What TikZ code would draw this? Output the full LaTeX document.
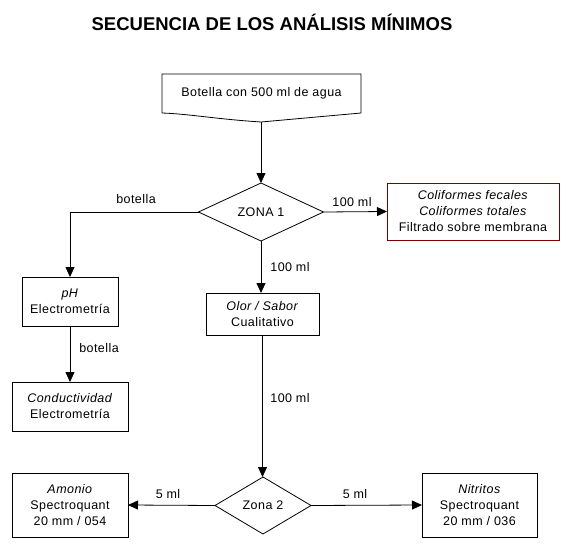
\documentclass[tikz,border=0pt]{standalone}
\usepackage{fontspec}
\setmainfont{Liberation Sans}
\newfontfamily\lblfont[LetterSpace=3.5]{Liberation Sans}
\usetikzlibrary{shapes.geometric,arrows.meta}
\definecolor{boxred}{RGB}{128,0,0}
\begin{document}
\begin{tikzpicture}[x=1pt,y=-1pt,
  every node/.style={font=\lblfont\fontsize{12.5}{16}\selectfont},
  box/.style={draw, line width=0.8pt, inner sep=0pt, outer sep=0pt, align=center},
  dia/.style={draw, diamond, line width=0.8pt, inner sep=0pt, outer sep=0pt},
  conn/.style={line width=0.8pt, -{Triangle[length=10pt,width=9pt]}},
  lbl/.style={inner sep=0pt}]
\useasboundingbox (0,0) rectangle (571,549);

% title
\node[lbl, font=\rmfamily\fontsize{18.5}{20}\selectfont\bfseries] (title) at (272,22) {SECUENCIA DE LOS ANÁLISIS MÍNIMOS};

% document shape
\node[box, draw=none, minimum width=199pt, minimum height=39pt] (doc) at (261.5,93.5) {Botella con 500 ml de agua};
\coordinate (docb) at (261,122);
\draw[line width=0.8pt] (doc.south west) -- (doc.north west) -- (doc.north east) -- (doc.south east)
  -- (docb) .. controls (215,119) and (190,114) .. (doc.south west);

% diamonds
\node[dia, minimum width=125pt, minimum height=58pt] (zona1) at (261,212) {ZONA 1};
\node[dia, minimum width=96pt, minimum height=57pt] (zona2) at (263,505.5) {Zona 2};

% boxes
\node[box, draw=boxred, minimum width=172pt, minimum height=57pt] (coli) at (473,211.5)
  {\textit{Coliformes fecales}\\ \textit{Coliformes totales}\\ Filtrado sobre membrana};
\node[box, minimum width=96pt, minimum height=49pt] (ph) at (70,301.5) {\textit{pH}\\ Electrometría};
\node[box, minimum width=116pt, minimum height=49pt] (cond) at (70,406.5) {\textit{Conductividad}\\ Electrometría};
\node[box, minimum width=113pt, minimum height=42pt] (olor) at (262.5,314) {\textit{Olor / Sabor}\\ Cualitativo};
\node[box, minimum width=116pt, minimum height=64pt] (amonio) at (70,505) {\textit{Amonio}\\ Spectroquant\\ 20 mm / 054};
\node[box, minimum width=115pt, minimum height=64pt] (nitritos) at (479.5,505) {\textit{Nitritos}\\ Spectroquant\\ 20 mm / 036};

% connectors
\draw[conn] (docb) -- (zona1.north);
\draw[conn] (zona1.east) -- (coli.west);
\draw[conn] (zona1.west) -| (ph.north);
\draw[conn] (ph.south) -- (cond.north);
\draw[conn] (zona1.south) -- (zona1.south |- olor.north);
\draw[conn] (olor.south) -- (olor.south |- zona2.north);
\draw[conn] (zona2.west) -- (amonio.east);
\draw[conn] (zona2.east) -- (nitritos.west);

% labels
\node[lbl] (l1) at (352,202) {100 ml};
\node[lbl] (l2) at (136,199) {botella};
\node[lbl] (l3) at (290,267) {100 ml};
\node[lbl] (l4) at (99,348) {botella};
\node[lbl] (l5) at (290,398) {100 ml};
\node[lbl] (l6) at (168,494) {5 ml};
\node[lbl] (l7) at (355,494) {5 ml};
\end{tikzpicture}
\end{document}
